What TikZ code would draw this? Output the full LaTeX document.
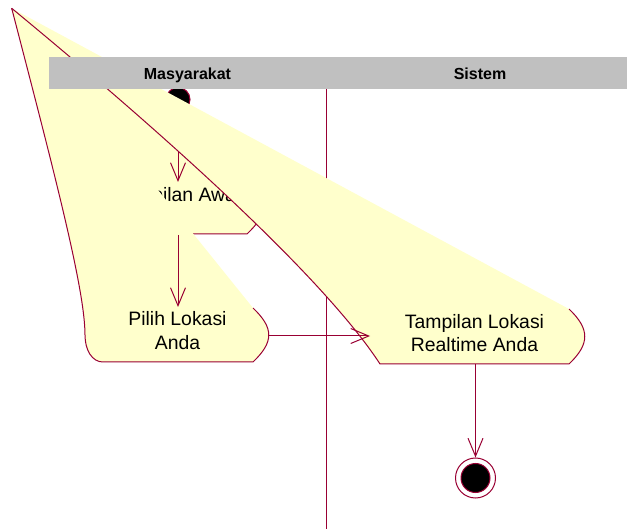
\documentclass[tikz,border=0pt]{standalone}
\usepackage{fontspec}
\setmainfont{Liberation Sans}
\usetikzlibrary{arrows.meta}
\definecolor{rosered}{RGB}{153,0,51}
\definecolor{actfill}{RGB}{255,255,204}
\definecolor{lanegray}{RGB}{192,192,192}
\begin{document}
\begin{tikzpicture}[x=1pt,y=-1pt,
    act/.style = {fill=actfill},
    outline/.style = {draw=rosered, line width=1pt},
    flow/.style = {draw=rosered, line width=1pt, -{Straight Barb[length=18pt,width=15pt]}},
    acttext/.style = {font=\fontsize{19.4}{23.3}\selectfont, align=center, inner sep=0pt},
    lane/.style = {font=\fontsize{16}{19}\selectfont\bfseries, inner sep=0pt, anchor=base},
    startstate/.style = {circle, draw=rosered, fill=black, line width=1pt, minimum size=24pt, inner sep=0pt},
    endring/.style = {circle, draw=rosered, fill=white, line width=1pt, minimum size=40pt, inner sep=0pt},
    enddot/.style = {circle, draw=rosered, fill=black, line width=1pt, minimum size=29pt, inner sep=0pt}]
    \useasboundingbox (0,0) rectangle (627,529);
    \draw[outline] (326,89) -- (326,529);
    \node[startstate] (start) at (178,99.5) {};
    % Tampilan Awal
    \fill[act] (11.7,8.3) .. controls (60,120) and (95,234) .. (109,234) -- (247,234)
        .. controls (268,214) and (268,202) .. (247,182) -- cycle;
    \draw[outline] (11.7,8.3) .. controls (60,120) and (95,234) .. (109,234) -- (247,234)
        .. controls (268,214) and (268,202) .. (247,182);
    \node[acttext, anchor=base] (awal) at (178,201.7) {Tampilan Awal};
    \coordinate (awaltop) at (178,182);
    \coordinate (awalbot) at (178,235);
    % Pilih Lokasi Anda
    \fill[act] (11.7,8.3) .. controls (55,175) and (85,290) .. (85,335)
        .. controls (85,350) and (92,362) .. (103,362) -- (253,362)
        .. controls (274,342) and (274,328) .. (253,308) -- cycle;
    \draw[outline] (11.7,8.3) .. controls (55,175) and (85,290) .. (85,335)
        .. controls (85,350) and (92,362) .. (103,362) -- (253,362)
        .. controls (274,342) and (274,328) .. (253,308);
    \node[acttext] (pilih) at (177.5,330.7) {Pilih Lokasi\\Anda};
    \coordinate (pilihtop) at (178,307);
    \coordinate (pilihright) at (269,336);
    \draw[flow] (start) -- (awaltop);
    \draw[flow] (awalbot) -- (pilihtop);
    % Tampilan Lokasi Realtime Anda
    \fill[act] (11.7,8.3) .. controls (250,205) and (345,310) .. (380,364) -- (569,364)
        .. controls (590,344) and (590,329) .. (569,309) -- cycle;
    \draw[outline] (11.7,8.3) .. controls (250,205) and (345,310) .. (380,364) -- (569,364)
        .. controls (590,344) and (590,329) .. (569,309);
    \node[acttext] (lokasi) at (474.5,333) {Tampilan Lokasi\\Realtime Anda};
    \coordinate (lokasileft) at (370,336);
    \coordinate (lokasibot) at (475.5,364);
    \node[endring] (end) at (475.5,478) {};
    \node[enddot] (enddot) at (end) {};
    \draw[flow] (pilihright) -- (lokasileft);
    \draw[flow] (lokasibot) -- (end);
    % swimlanes
    \fill[lanegray] (49,57.5) rectangle (627,89);
    \node[lane] (masyarakat) at (187.5,79.3) {Masyarakat};
    \node[lane] (sistem) at (480,79.3) {Sistem};
\end{tikzpicture}
\end{document}
